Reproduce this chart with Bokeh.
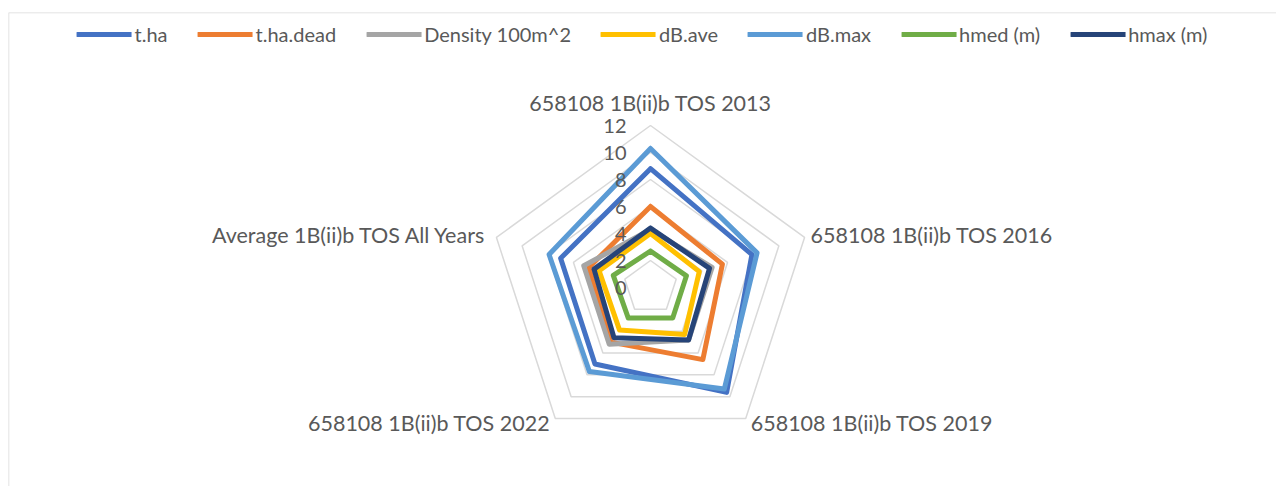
import math
from bokeh.plotting import figure
from bokeh.models import Legend, LegendItem, ColumnDataSource, Range1d, Span
from bokeh.core.properties import value
from bokeh.embed import file_html
from bokeh.resources import INLINE

categories = ["658108 1B(ii)b TOS 2013", "658108 1B(ii)b TOS 2016",
              "658108 1B(ii)b TOS 2019", "658108 1B(ii)b TOS 2022",
              "Average 1B(ii)b TOS All Years"]
series_names = ["t.ha", "t.ha.dead", "Density 100m^2", "dB.ave", "dB.max", "hmed (m)", "hmax (m)"]
t_ha = [8.8, 7.9, 9.6, 7.0, 7.0]
t_ha_dead = [6.0, 5.6, 6.6, 5.0, 4.8]
density = [4.3, 4.8, 4.8, 5.2, 5.2]
db_ave = [4.0, 3.8, 4.3, 3.9, 4.0]
db_max = [10.3, 8.3, 9.3, 7.7, 7.9]
hmed = [2.7, 2.8, 2.8, 2.8, 2.9]
hmax = [4.4, 4.6, 4.8, 4.6, 4.4]
tick_values = [0, 2, 4, 6, 8, 10, 12]
colors = ["#4472C4", "#ED7D31", "#A5A5A5", "#FFC000", "#5B9BD5", "#70AD47", "#264478"]

all_series = [t_ha, t_ha_dead, density, db_ave, db_max, hmed, hmax]

W, H = 1276, 486
BL, BT = 8, 12
FW, FH = W - BL, H - BT
scale = 13.5
cx, cy = 642, 275
x0, x1 = -cx / scale, (FW - cx) / scale
y0, y1 = -(FH - cy) / scale, cy / scale
p = figure(width=W, height=H, output_backend="svg", toolbar_location=None,
           x_range=Range1d(x0, x1), y_range=Range1d(y0, y1),
           min_border_left=BL, min_border_top=BT, min_border_right=0, min_border_bottom=0)
p.axis.visible = False
p.grid.visible = False
p.outline_line_color = None
p.background_fill_color = "white"
p.border_fill_color = "white"

# chart-area border (top and left edges visible in the reference)
p.add_layout(Span(location=x0, dimension="height", line_color="#D9D9D9", line_width=1.5))
p.add_layout(Span(location=y1, dimension="width", line_color="#D9D9D9", line_width=1.5))

n = len(categories)
angles = [2 * math.pi * i / n for i in range(n)]

def xy(vals):
    xs = [v * math.sin(a) for v, a in zip(vals, angles)]
    ys = [v * math.cos(a) for v, a in zip(vals, angles)]
    return xs + xs[:1], ys + ys[:1]

# grid rings
gx, gy = [], []
for t in tick_values[1:]:
    xs, ys = xy([t] * n)
    gx.append(xs)
    gy.append(ys)
p.multi_line(gx, gy, line_color="#D9D9D9", line_width=1.5)

items = []
for name, vals, col in zip(series_names, all_series, colors):
    xs, ys = xy(vals)
    r = p.line(xs, ys, line_color=col, line_width=5, line_join="round", line_cap="round")
    items.append(LegendItem(label=name, renderers=[r]))

# tick labels
p.text(x=[0] * len(tick_values), y=tick_values, text=[str(t) for t in tick_values],
       text_align="right", text_baseline="middle", x_offset=-24,
       text_font=value("Lato"), text_font_size="20px", text_color="#595959")

# category labels
rmax = tick_values[-1]
lab_x = [rmax * math.sin(a) for a in angles]
lab_y = [rmax * math.cos(a) for a in angles]
setup = [("center", "bottom", 0, -10), ("left", "middle", 6, -2), ("left", "middle", 5, 4),
         ("right", "middle", -5, 4), ("right", "middle", -10, -2)]
src = ColumnDataSource(dict(x=lab_x, y=lab_y, text=categories,
                            align=[s[0] for s in setup], base=[s[1] for s in setup],
                            xo=[s[2] for s in setup], yo=[s[3] for s in setup]))
p.text(x="x", y="y", text="text", text_align="align", text_baseline="base",
       x_offset="xo", y_offset="yo", source=src,
       text_font=value("Lato"), text_font_size="21.5px", text_color="#595959")

legend = Legend(items=items, orientation="horizontal", location="top_center",
                glyph_width=55, glyph_height=16, label_standoff=3, spacing=30,
                padding=0, margin=10, border_line_color=None, background_fill_alpha=0,
                label_text_font="Lato", label_text_font_size="20px", label_text_color="#595959")
p.add_layout(legend, "center")

open("out.html", "w").write(file_html(p, INLINE))
